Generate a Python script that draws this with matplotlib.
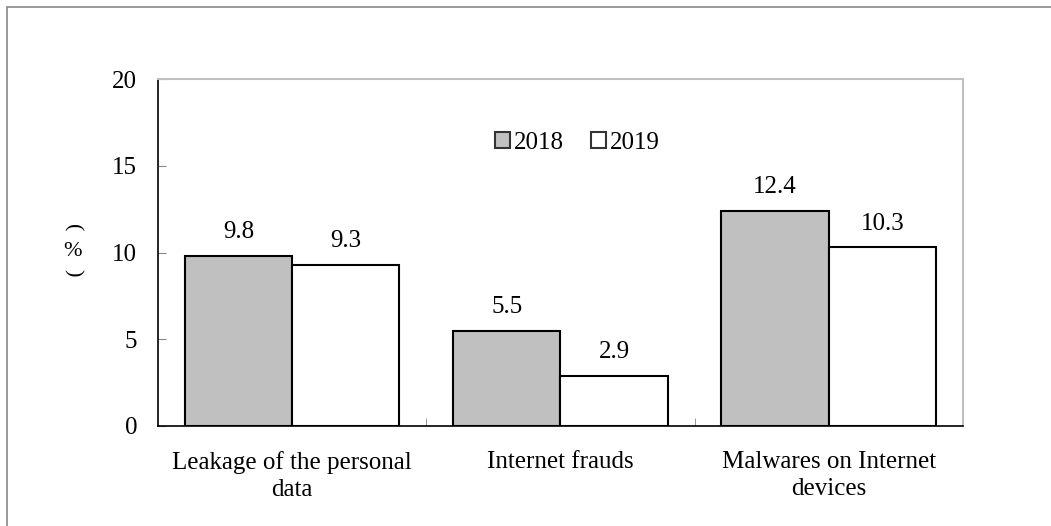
import matplotlib.pyplot as plt
import numpy as np
from matplotlib.patches import Rectangle

# Data
categories = ["Leakage of the personal\ndata", "Internet frauds", "Malwares on Internet\ndevices"]
years = ["2018", "2019"]
values_2018 = [9.8, 5.5, 12.4]
values_2019 = [9.3, 2.9, 10.3]

plt.rcParams["font.family"] = ["Liberation Serif", "DejaVu Sans"]
FS = 18

fig = plt.figure(figsize=(10.51, 5.26), dpi=100)
ax = fig.add_axes([158 / 1051, 1 - 426 / 526, 805 / 1051, 347 / 526])

# outer frame (only top/left visible in the original)
fig.patches.append(Rectangle((7 / 1051, -0.1), 1.2, 1 - 7 / 526 + 0.1,
                             transform=fig.transFigure, fill=False,
                             edgecolor="#888888", linewidth=1.2))

x = np.arange(len(categories))
w = 0.4
b1 = ax.bar(x - w / 2, values_2018, w, color="#c0c0c0", edgecolor="black",
            linewidth=1.5, label=years[0])
b2 = ax.bar(x + w / 2, values_2019, w, color="white", edgecolor="black",
            linewidth=1.5, label=years[1])

for bars in (b1, b2):
    for r in bars:
        ax.annotate(f"{r.get_height():.1f}", (r.get_x() + r.get_width() / 2, r.get_height()),
                    xytext=(0, 17), textcoords="offset points", ha="center",
                    va="center", fontsize=FS)

ax.set_xlim(-0.5, 2.5)
ax.set_ylim(0, 20)
ax.set_yticks([0, 5, 10, 15, 20])
ax.tick_params(axis="y", direction="in", length=6, labelsize=FS, pad=15, color="#888888")

ax.set_xticks(x)
ax.set_xticklabels(categories, fontsize=FS, linespacing=1.3)
ax.tick_params(axis="x", length=0, pad=18)
ax.set_xticks([0.5, 1.5], minor=True)
ax.tick_params(axis="x", which="minor", direction="in", length=6, color="#888888")

for s in ("top", "right"):
    ax.spines[s].set_color("#c0c0c0")
    ax.spines[s].set_linewidth(1.5)
ax.spines["left"].set_linewidth(1.2)
ax.spines["bottom"].set_linewidth(1.2)

# vertical "(%)" label: rotated parentheses around an upright %
fig.text(72 / 1051, 1 - 228 / 526, "(", rotation=-90, ha="center", va="center", fontsize=16)
fig.text(72 / 1051, 1 - 252 / 526, "%", ha="center", va="center", fontsize=FS - 2)
fig.text(72 / 1051, 1 - 273 / 526, ")", rotation=-90, ha="center", va="center", fontsize=16)

leg = ax.legend(loc="center", bbox_to_anchor=(0.521, 0.816), ncol=2, frameon=False,
                fontsize=FS, handlelength=0.6, handleheight=0.6, handletextpad=0.15,
                columnspacing=1.1)
for h in leg.legend_handles:
    h.set_edgecolor("#333333")

fig.savefig("out.png", dpi=100)
